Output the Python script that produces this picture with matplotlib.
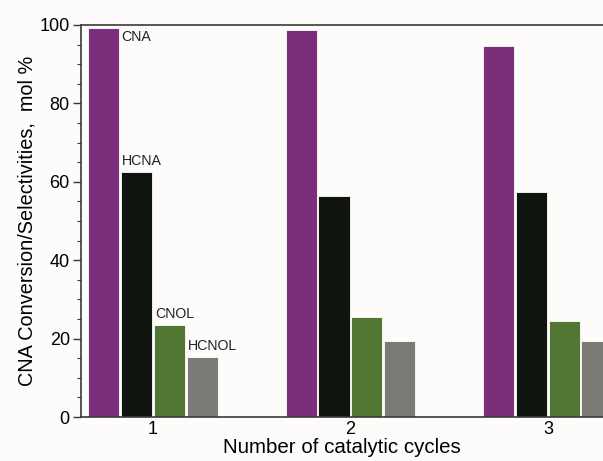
import numpy as np
import matplotlib
matplotlib.use("Agg")
import matplotlib.pyplot as plt
from matplotlib.ticker import MultipleLocator

# ── data ──────────────────────────────────────────────────────────────────
cycles = [1, 2, 3]
series = ["CNA", "HCNA", "CNOL", "HCNOL"]
cna = [99.3, 98.7, 94.7]
hcna = [62.4, 56.5, 57.5]
cnol = [23.5, 25.4, 24.5]
hcnol = [15.4, 19.5, 19.5]

colors = ["#7b2f7a", "#10140e", "#527634", "#7c7a76"]

plt.rcParams["font.family"] = ["Liberation Sans", "DejaVu Sans"]

fig = plt.figure(figsize=(6.03, 4.61), dpi=100, facecolor="#fdfcfb")
ax = fig.add_axes([0.1343, 0.0954, 0.8657, 0.8504])
ax.set_facecolor("#fdfcfb")

x = np.array(cycles, dtype=float)
pitch = 0.166
width = 0.158
values = [cna, hcna, cnol, hcnol]
for i, (vals, col) in enumerate(zip(values, colors)):
    off = (i - 1.5) * pitch
    ax.bar(x + off, vals, width=width, color=col, edgecolor="white",
           linewidth=0.6, zorder=2)

# series labels on the first group
lab_kw = dict(fontsize=10.2, color="#222222", zorder=3)
ax.text(x[0] - 1.5 * pitch + width / 2 + 0.01, cna[0] - 2.3, "CNA",
        ha="left", va="center", **lab_kw)
for i, vals in enumerate(values[1:], start=1):
    ax.text(x[0] + (i - 1.5) * pitch - width / 2 + 0.005, vals[0] + 1.0,
            series[i], ha="left", va="bottom", **lab_kw)

ax.set_xlim(0.635, 3.279)
ax.set_ylim(0, 100)
ax.set_xticks(cycles)
ax.set_yticks([0, 20, 40, 60, 80, 100])
ax.yaxis.set_minor_locator(MultipleLocator(5))

for side in ["left", "top", "bottom"]:
    ax.spines[side].set_color("#3a3a3a")
    ax.spines[side].set_linewidth(1.2)
ax.spines["right"].set_visible(False)

ax.tick_params(axis="y", which="major", direction="out", length=6,
               width=1.0, color="#3a3a3a", labelsize=13, pad=2)
ax.tick_params(axis="y", which="minor", direction="out", length=3,
               width=0.8, color="#3a3a3a")
ax.tick_params(axis="x", which="major", length=0, labelsize=13, pad=3)

ax.set_xlabel("Number of catalytic cycles", fontsize=14.8, labelpad=0)
ax.set_ylabel("CNA Conversion/Selectivities,  mol %", fontsize=14.3,
              labelpad=2)

fig.savefig("out.png", dpi=100, facecolor=fig.get_facecolor())
